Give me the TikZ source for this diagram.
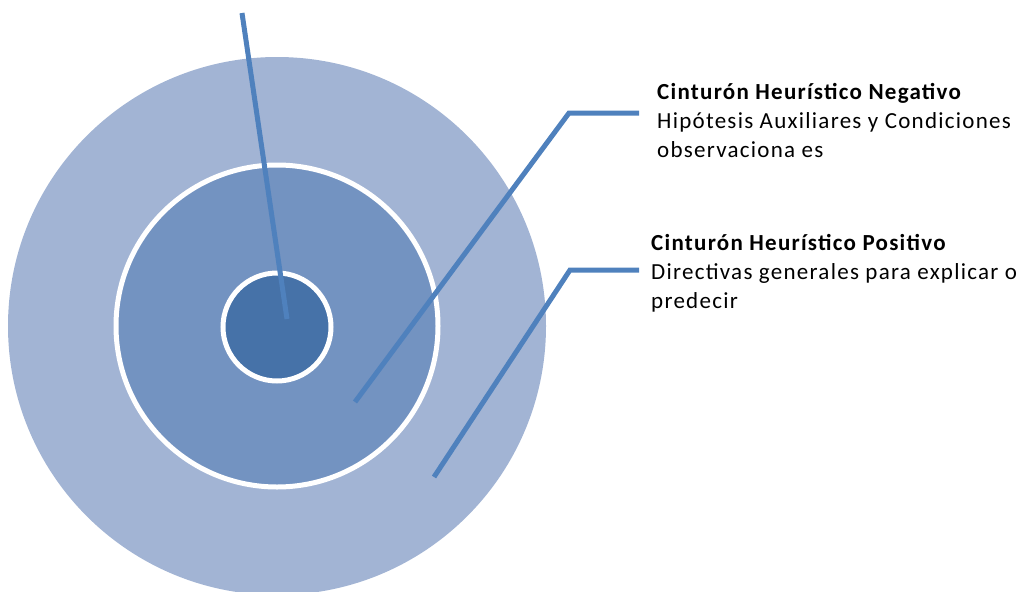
\documentclass[tikz,border=0pt]{standalone}
\usepackage{fontspec}
\setmainfont{Carlito}[LetterSpace=5.5]
\usetikzlibrary{positioning}
\definecolor{ringouter}{HTML}{A2B4D4}
\definecolor{ringmiddle}{HTML}{7393C1}
\definecolor{ringinner}{HTML}{4672A8}
\definecolor{leaderblue}{HTML}{4F81BD}

\begin{document}
\begin{tikzpicture}[
    x=1pt, y=-1pt,
    ringnode/.style   = {circle, inner sep=0pt, draw=white, line width=5pt},
    leaderline/.style = {draw=leaderblue, line width=5pt},
    labelnode/.style  = {anchor=base west, align=left, inner sep=0pt,
                         font=\fontsize{23}{29}\selectfont},
]
    \clip (0,0) rectangle (1026,592);

    %Nodes
    \node[ringnode, draw=none, fill=ringouter, minimum size=538pt] (outercircle)  at (277,326) {};
    \node[ringnode, fill=ringmiddle, minimum size=322pt]           (middlecircle) at (277,326) {};
    \node[ringnode, fill=ringinner, minimum size=108pt]            (innercircle)  at (277,327) {};

    \node[labelnode] (negativelabel) at (657,157)
        {\textbf{Cinturón Heurístico Negativo}\\Hipótesis Auxiliares y Condiciones\\observaciona es};
    \node[labelnode] (positivelabel) at (651,308)
        {\textbf{Cinturón Heurístico Positivo}\\Directivas generales para explicar o\\predecir};

    %Points
    \coordinate (coretop)  at (242,13);
    \coordinate (coretip)  at (287,319);
    \coordinate (negtip)   at (355,402);
    \coordinate (negelbow) at (569,113);
    \coordinate (negjoin)  at (639,113);
    \coordinate (postip)   at (434,477);
    \coordinate (poselbow) at (570,270);
    \coordinate (posjoin)  at (639,270);

    %Lines
    \draw[leaderline] (coretop) -- (coretip);
    \draw[leaderline] (negtip) -- (negelbow) -- (negjoin);
    \draw[leaderline] (postip) -- (poselbow) -- (posjoin);
\end{tikzpicture}
\end{document}
